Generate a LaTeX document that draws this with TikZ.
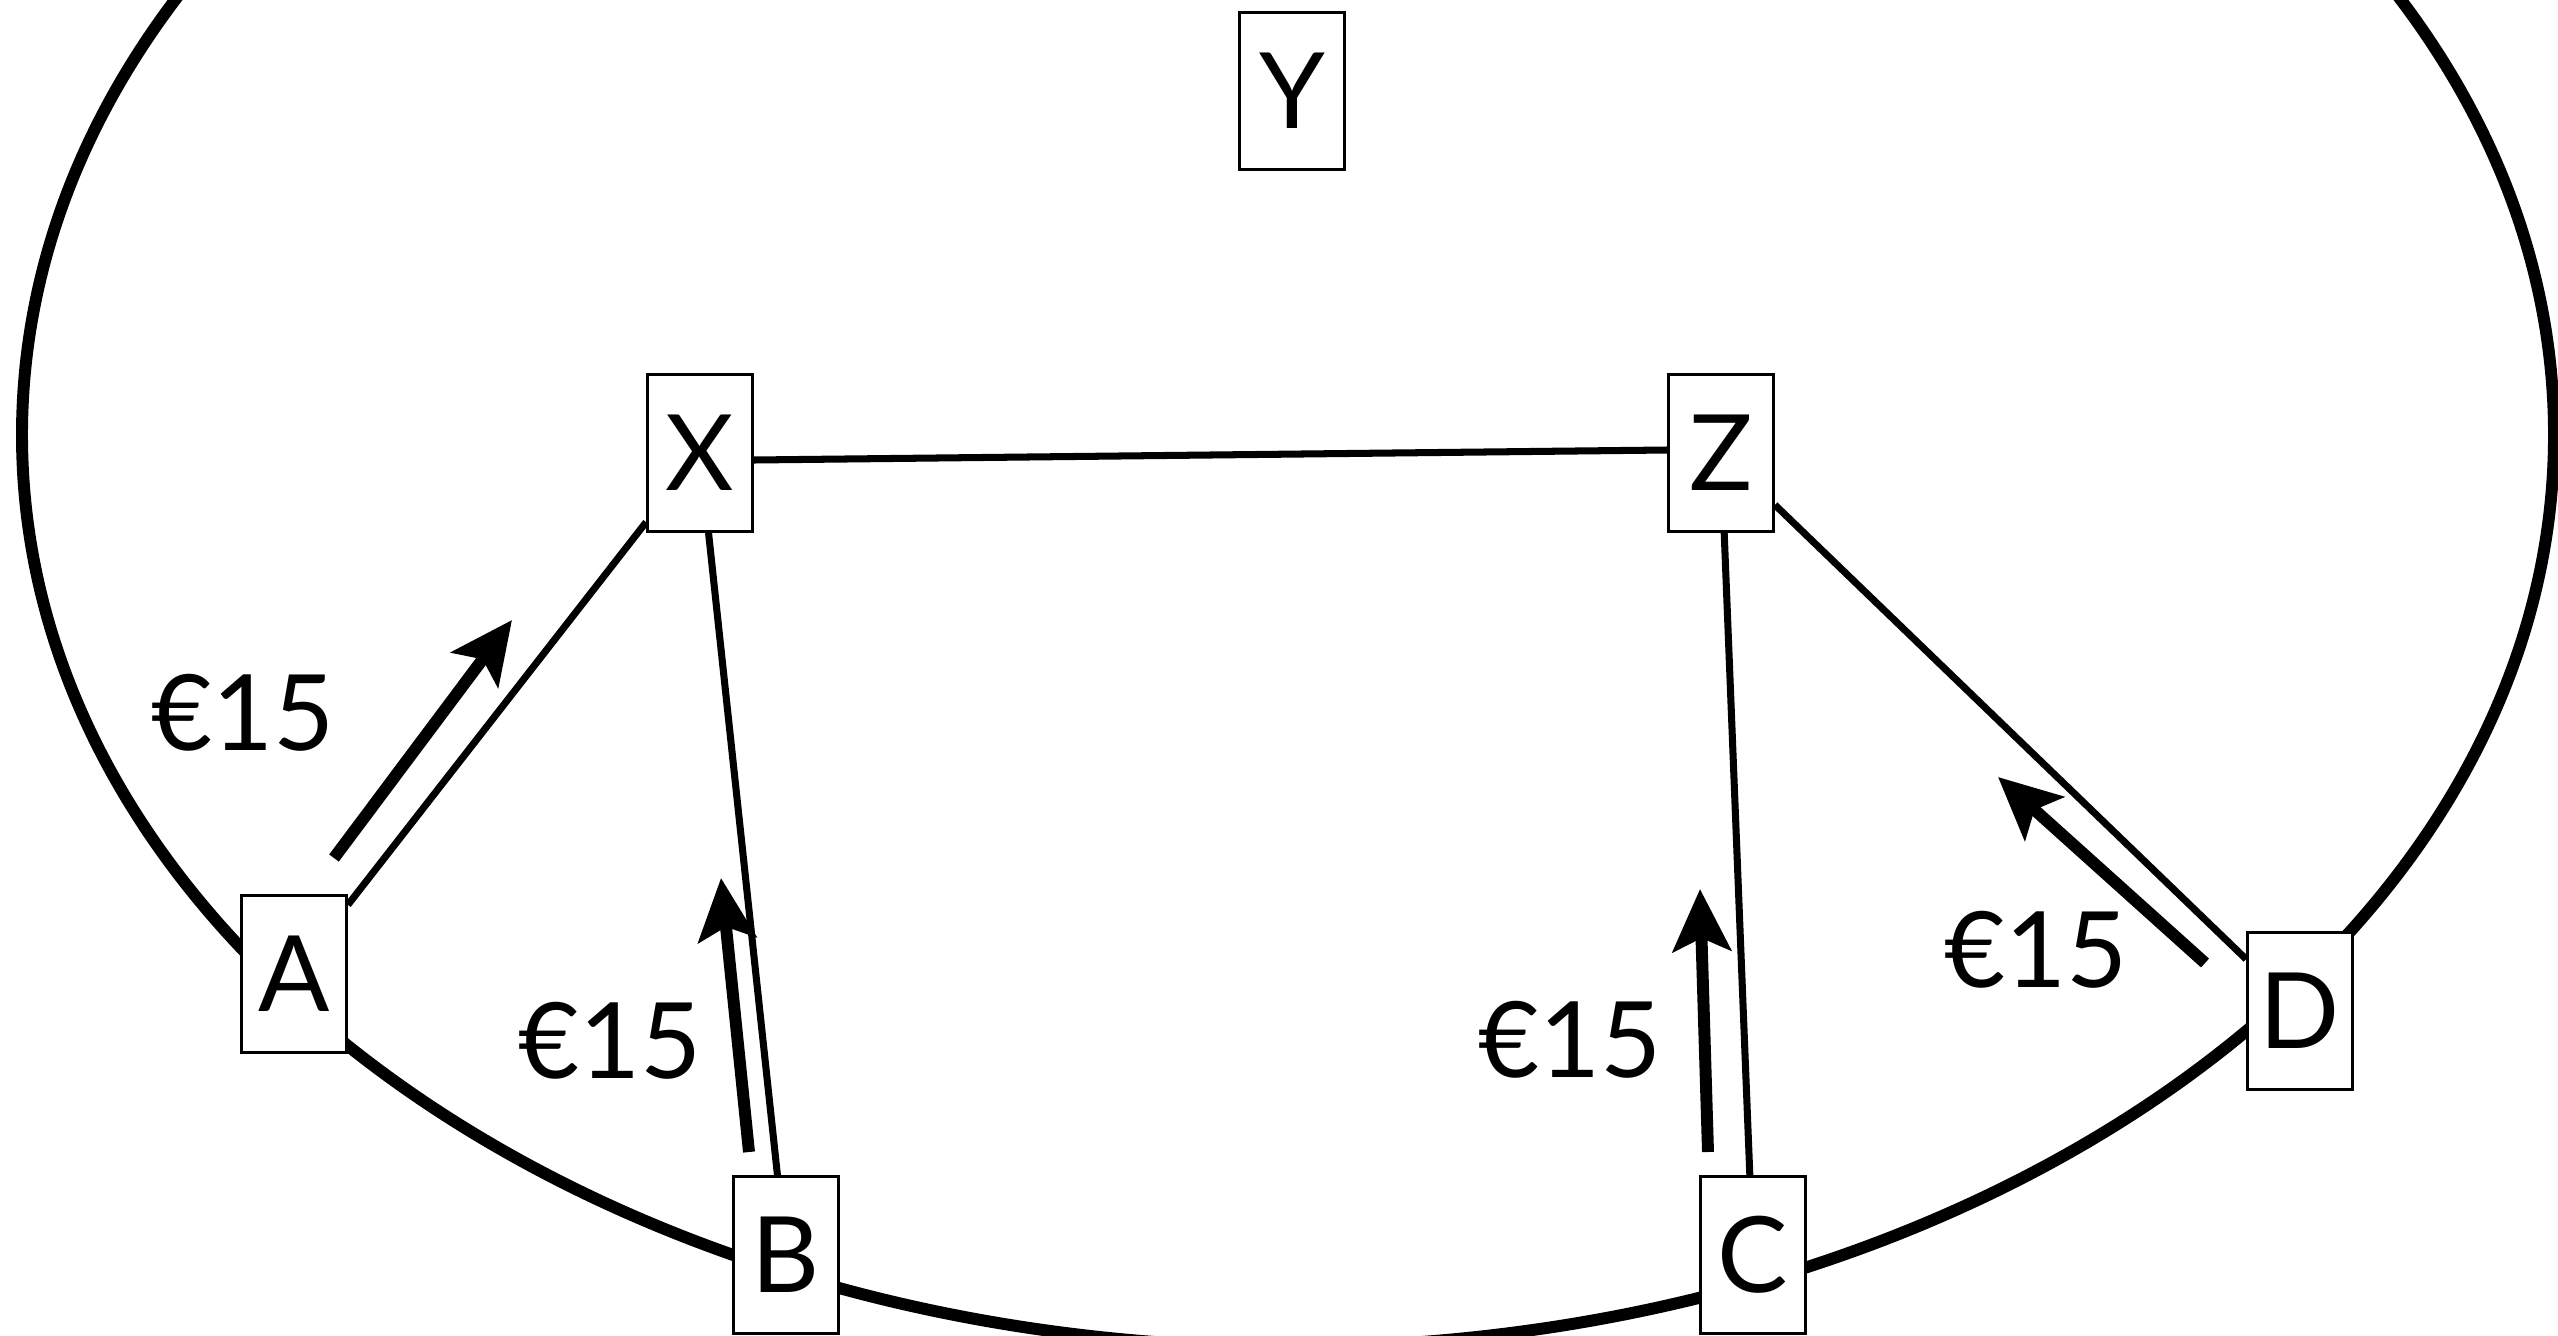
\documentclass[tikz,border=0pt]{standalone}
\usepackage{fontspec}
\setmainfont{Lato}
\usetikzlibrary{arrows.meta}

\begin{document}
\begin{tikzpicture}[
  box/.style={draw, line width=0.8pt, fill=white, minimum width=1.05cm,
    minimum height=1.57cm, inner sep=0pt, font=\fontsize{30}{36}\selectfont},
  link/.style={line width=2pt},
  pay/.style={line width=3.4pt, -{Stealth[length=0.62cm, width=0.58cm, inset=0.13cm]}},
  cost/.style={font=\fontsize{30}{36}\selectfont}]
\useasboundingbox (0,0) rectangle (25.58,13.35);
\clip (0,0) rectangle (25.58,13.35);
% outer ring:
\draw[line width=3.4pt] (12.88,9.00) ellipse [x radius=12.66, y radius=9.12];
% nodes:
\node[box] (Y) at (12.92,12.44) {Y};
\node[box] (X) at (7.00,8.82) {X};
\node[box] (Z) at (17.21,8.82) {Z};
\node[box] (A) at (2.94,3.61) {A};
\node[box] (B) at (7.86,0.80) {B};
\node[box] (C) at (17.53,0.80) {C};
\node[box] (D) at (23.00,3.24) {D};
% links:
\draw[link] ([yshift=-0.07cm]X.east) -- ([yshift=0.03cm]Z.west);
\draw[link] (A) -- (X);
\draw[link] (X) -- (B);
\draw[link] (Z) -- (C);
\draw[link] (Z) -- (D);
% payments:
\coordinate (fromA) at (3.34,4.77); \coordinate (toX) at (5.12,7.15);
\coordinate (fromB) at (7.49,1.83); \coordinate (toXb) at (7.21,4.57);
\coordinate (fromC) at (17.08,1.83); \coordinate (toZ) at (17.00,4.46);
\coordinate (fromD) at (22.05,3.72); \coordinate (toZd) at (19.98,5.58);
\draw[pay] (fromA) -- (toX);
\draw[pay] (fromB) -- (toXb);
\draw[pay] (fromC) -- (toZ);
\draw[pay] (fromD) -- (toZd);
\node[cost] (costA) at (2.43,6.22) {€15};
\node[cost] (costB) at (6.10,2.94) {€15};
\node[cost] (costC) at (15.70,2.95) {€15};
\node[cost] (costD) at (20.36,3.85) {€15};
\end{tikzpicture}
\end{document}
